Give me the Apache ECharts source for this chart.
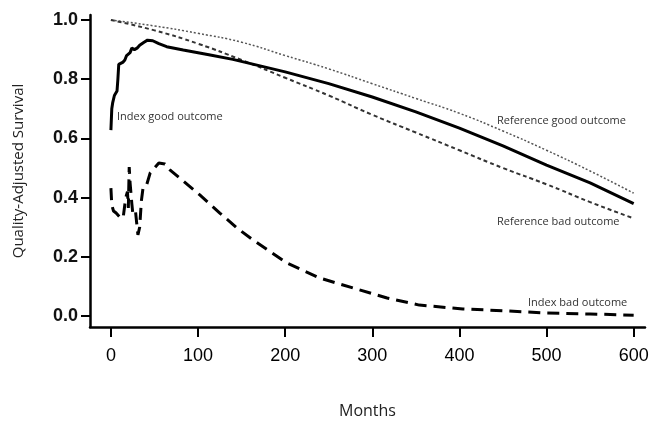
<!DOCTYPE html>
<html>
  <head>
    <meta charset="utf-8" />
    <title></title>
    <style type="text/css">
      html,
      body {
        width: 100%;
        height: 100%;
        margin: 0;
        background: #fff;
      }
      #main {
        width: 652px;
        height: 421px;
      }
    </style>
  </head>
  <body>
    <div id="main"></div>
    <script src="https://cdn.jsdelivr.net/npm/echarts@6/dist/echarts.min.js"></script>
    <script type="text/javascript">
      // 刻度
      var xTicks = [0, 100, 200, 300, 400, 500, 600];
      var yTicks = [0, 0.2, 0.4, 0.6, 0.8, 1.0];

      // [月, 值]
      var indexGood = [
        [0, 0.628], [1, 0.70], [2, 0.72], [4, 0.745], [7, 0.76], [8, 0.80],
        [9, 0.85], [14, 0.858], [16, 0.865], [18, 0.88], [22, 0.89],
        [24, 0.905], [27, 0.90], [30, 0.905], [33, 0.915], [38, 0.925],
        [42, 0.932], [48, 0.93], [55, 0.92], [64, 0.91], [83, 0.899],
        [114, 0.882], [140, 0.867], [200, 0.825], [250, 0.785], [300, 0.74],
        [350, 0.69], [400, 0.635], [450, 0.575], [500, 0.51], [550, 0.45],
        [600, 0.38]
      ];
      var indexBad = [
        [0, 0.432], [1, 0.375], [3, 0.355], [6, 0.348], [10, 0.335],
        [14, 0.331], [17, 0.40], [19, 0.42], [20, 0.365], [21, 0.503],
        [22, 0.45], [24, 0.38], [25, 0.351], [28, 0.36], [30, 0.358],
        [31, 0.274], [33, 0.30], [35, 0.39], [37, 0.436], [41, 0.443],
        [45, 0.483], [50, 0.5], [55, 0.517], [62, 0.514], [68, 0.493],
        [79, 0.466], [102, 0.409], [125, 0.348], [145, 0.297], [163, 0.257],
        [202, 0.179], [240, 0.128], [278, 0.095], [317, 0.061], [354, 0.037],
        [404, 0.024], [450, 0.018], [500, 0.01], [550, 0.007], [600, 0.003]
      ];
      var refGood = [
        [0, 1.0], [50, 0.98], [100, 0.955], [150, 0.925], [200, 0.88],
        [250, 0.835], [300, 0.785], [350, 0.735], [400, 0.685], [450, 0.625],
        [500, 0.56], [550, 0.49], [600, 0.415]
      ];
      var refBad = [
        [0, 1.0], [50, 0.965], [100, 0.92], [150, 0.865], [200, 0.805],
        [250, 0.745], [300, 0.68], [350, 0.62], [400, 0.56], [450, 0.50],
        [500, 0.445], [550, 0.385], [600, 0.33]
      ];

      var myChart = echarts.init(document.getElementById("main"));

      var txt = function (left, top, s) {
        return {
          type: "text",
          left: left,
          top: top,
          style: {
            text: s,
            fill: "#333",
            font: "11px 'Open Sans'",
          },
        };
      };

      var option = {
        animation: false,
        backgroundColor: "#fff",
        grid: {
          left: 90,
          right: 7,
          top: 15,
          bottom: 94,
          containLabel: false,
          outerBoundsMode: "none",
        },
        xAxis: {
          type: "value",
          min: -24,
          max: 613,
          name: "Months",
          nameLocation: "middle",
          nameGap: 76,
          nameTextStyle: {
            fontFamily: "Open Sans",
            fontSize: 16,
            color: "#222",
          },
          axisLine: { show: true, onZero: false, lineStyle: { color: "#000", width: 2.5 } },
          axisTick: {
            show: true,
            inside: false,
            length: 10,
            customValues: xTicks,
            lineStyle: { color: "#000", width: 2 },
          },
          axisLabel: {
            customValues: xTicks,
            margin: 20,
            fontFamily: "Liberation Sans",
            fontSize: 18,
            color: "#000",
          },
          splitLine: { show: false },
        },
        yAxis: {
          type: "value",
          min: -0.037,
          max: 1.017,
          name: "Quality-Adjusted Survival",
          nameLocation: "middle",
          nameGap: 64,
          nameTextStyle: {
            fontFamily: "Open Sans",
            fontSize: 15,
            color: "#222",
          },
          axisLine: { show: true, onZero: false, lineStyle: { color: "#000", width: 2.5 } },
          axisTick: {
            show: true,
            inside: false,
            length: 9,
            customValues: yTicks,
            lineStyle: { color: "#000", width: 2 },
          },
          axisLabel: {
            customValues: yTicks,
            margin: 12,
            fontFamily: "Liberation Sans",
            fontSize: 18,
            fontWeight: "bold",
            color: "#111",
            formatter: function (v) {
              return v.toFixed(1);
            },
          },
          splitLine: { show: false },
        },
        series: [
          {
            name: "Reference good outcome",
            type: "line",
            data: refGood,
            showSymbol: false,
            smooth: true,
            lineStyle: { color: "#555", width: 1.5, type: [2, 2] },
          },
          {
            name: "Reference bad outcome",
            type: "line",
            data: refBad,
            showSymbol: false,
            smooth: true,
            lineStyle: { color: "#333", width: 2, type: [4, 3] },
          },
          {
            name: "Index good outcome",
            type: "line",
            data: indexGood,
            showSymbol: false,
            lineStyle: { color: "#000", width: 3 },
          },
          {
            name: "Index bad outcome",
            type: "line",
            data: indexBad,
            showSymbol: false,
            lineStyle: { color: "#000", width: 3, type: [12, 7] },
          },
        ],
        graphic: [
          txt(117, 111, "Index good outcome"),
          txt(497, 115, "Reference good outcome"),
          txt(497, 216, "Reference bad outcome"),
          txt(528, 297, "Index bad outcome"),
        ],
      };

      myChart.setOption(option);
    </script>
  </body>
</html>
